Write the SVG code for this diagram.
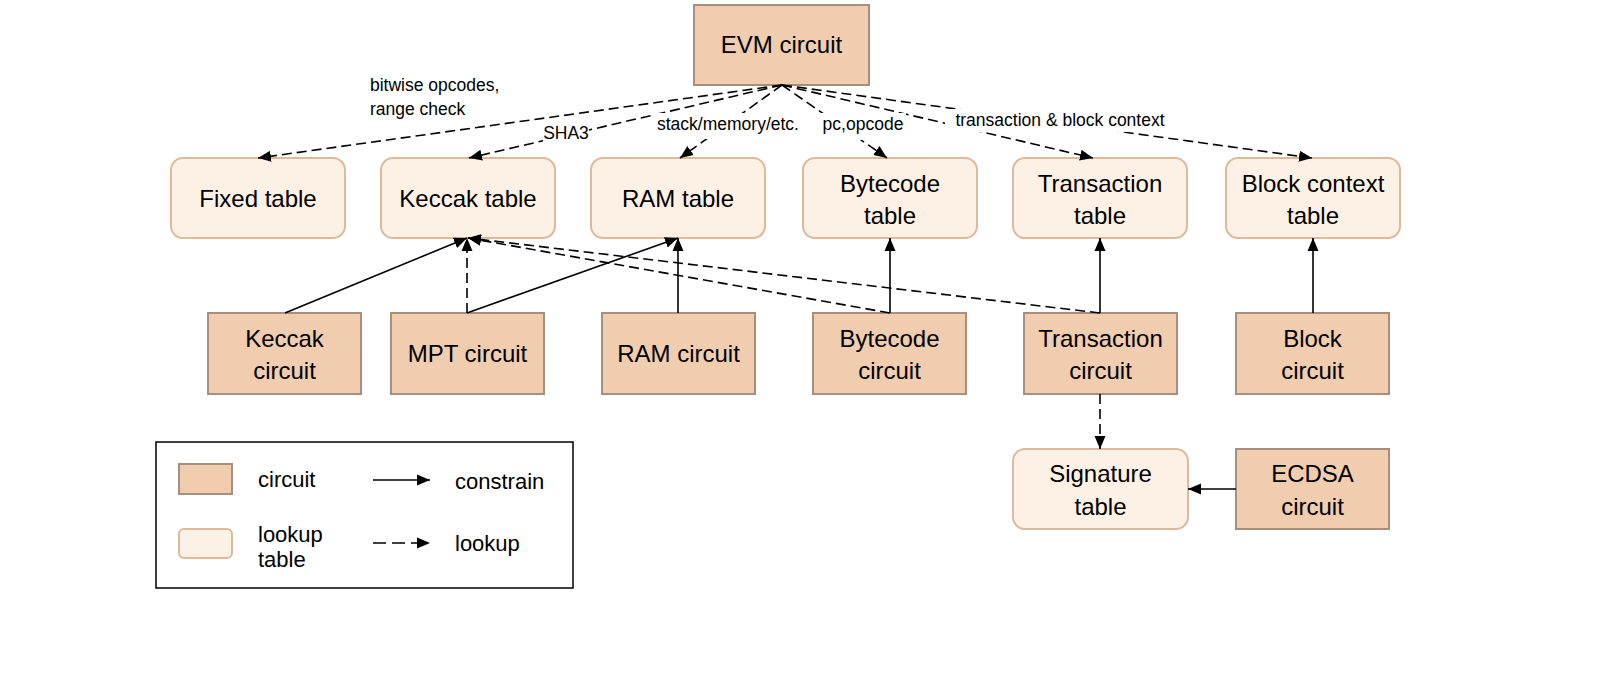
<svg xmlns="http://www.w3.org/2000/svg" width="1621" height="684" viewBox="0 0 1621 684">
<defs>
<style>
.circuit{fill:#F1CDAF;stroke:#A98F7B;stroke-width:2}
.table{fill:#FDF1E5;stroke:#DDBA9C;stroke-width:2}
.t{font-family:"Liberation Sans",Arial,sans-serif;font-size:24px;fill:#000;text-anchor:middle}
.lbl{font-family:"Liberation Sans",Arial,sans-serif;font-size:17.5px;fill:#000}
.lg{font-family:"Liberation Sans",Arial,sans-serif;font-size:22px;fill:#000}
.solid{stroke:#000;stroke-width:1.6;fill:none;marker-end:url(#ah)}
.dash{stroke:#000;stroke-width:1.6;fill:none;stroke-dasharray:10 5;marker-end:url(#ah)}
.lgdash{stroke-dasharray:13 6}
.bg{fill:#fff}
</style>
<marker id="ah" markerUnits="userSpaceOnUse" markerWidth="14" markerHeight="12" refX="13" refY="6" orient="auto">
<path d="M0,0.5 L13,6 L0,11.5 z" fill="#000"/>
</marker>
</defs>
<rect width="1621" height="684" fill="#fff"/>

<g id="evm-circuit"><rect class="circuit" x="694" y="5" width="175" height="80"/><text class="t" x="781.5" y="53">EVM circuit</text></g>

<g id="fixed-table"><rect class="table" x="171" y="158" width="174" height="80" rx="12"/><text class="t" x="258" y="206.5">Fixed table</text></g>
<g id="keccak-table"><rect class="table" x="381" y="158" width="174" height="80" rx="12"/><text class="t" x="468" y="206.5">Keccak table</text></g>
<g id="ram-table"><rect class="table" x="591" y="158" width="174" height="80" rx="12"/><text class="t" x="678" y="206.5">RAM table</text></g>
<g id="bytecode-table"><rect class="table" x="803" y="158" width="174" height="80" rx="12"/><text class="t" x="890" y="191.5">Bytecode</text><text class="t" x="890" y="224">table</text></g>
<g id="transaction-table"><rect class="table" x="1013" y="158" width="174" height="80" rx="12"/><text class="t" x="1100" y="191.5">Transaction</text><text class="t" x="1100" y="224">table</text></g>
<g id="block-context-table"><rect class="table" x="1226" y="158" width="174" height="80" rx="12"/><text class="t" x="1313" y="191.5">Block context</text><text class="t" x="1313" y="224">table</text></g>

<g id="keccak-circuit"><rect class="circuit" x="208" y="313" width="153" height="81"/><text class="t" x="284.5" y="347">Keccak</text><text class="t" x="284.5" y="379">circuit</text></g>
<g id="mpt-circuit"><rect class="circuit" x="391" y="313" width="153" height="81"/><text class="t" x="467.5" y="362">MPT circuit</text></g>
<g id="ram-circuit"><rect class="circuit" x="602" y="313" width="153" height="81"/><text class="t" x="678.5" y="362">RAM circuit</text></g>
<g id="bytecode-circuit"><rect class="circuit" x="813" y="313" width="153" height="81"/><text class="t" x="889.5" y="347">Bytecode</text><text class="t" x="889.5" y="379">circuit</text></g>
<g id="transaction-circuit"><rect class="circuit" x="1024" y="313" width="153" height="81"/><text class="t" x="1100.5" y="347">Transaction</text><text class="t" x="1100.5" y="379">circuit</text></g>
<g id="block-circuit"><rect class="circuit" x="1236" y="313" width="153" height="81"/><text class="t" x="1312.5" y="347">Block</text><text class="t" x="1312.5" y="379">circuit</text></g>

<g id="signature-table"><rect class="table" x="1013" y="449" width="175" height="80" rx="12"/><text class="t" x="1100.5" y="482">Signature</text><text class="t" x="1100.5" y="514.5">table</text></g>
<g id="ecdsa-circuit"><rect class="circuit" x="1236" y="449" width="153" height="80"/><text class="t" x="1312.5" y="482">ECDSA</text><text class="t" x="1312.5" y="514.5">circuit</text></g>

<g id="connectors">
<line class="dash" x1="782" y1="85" x2="258" y2="158"/>
<line class="dash" x1="782" y1="85" x2="469" y2="158"/>
<line class="dash" x1="782" y1="85" x2="680" y2="158"/>
<line class="dash" x1="782" y1="85" x2="887" y2="158"/>
<line class="dash" x1="782" y1="85" x2="1093" y2="158"/>
<line class="dash" x1="782" y1="85" x2="1312" y2="158"/>
<line class="solid" x1="285" y1="313" x2="467" y2="238"/>
<line class="dash" x1="467" y1="313" x2="467" y2="238"/>
<line class="solid" x1="467" y1="313" x2="678" y2="238"/>
<line class="solid" x1="678" y1="313" x2="678" y2="238"/>
<line class="solid" x1="890" y1="313" x2="890" y2="238"/>
<line class="dash" x1="890" y1="313" x2="468" y2="238"/>
<line class="dash" x1="1100" y1="313" x2="468" y2="238"/>
<line class="solid" x1="1100" y1="313" x2="1100" y2="238"/>
<line class="solid" x1="1313" y1="313" x2="1313" y2="238"/>
<line class="dash" x1="1100" y1="394" x2="1100" y2="449"/>
<line class="solid" x1="1236" y1="489" x2="1188" y2="489"/>
</g>

<g id="labels">
<text class="lbl" x="370" y="91">bitwise opcodes,</text>
<text class="lbl" x="370" y="115">range check</text>
<rect class="bg" x="543" y="124" width="46" height="20"/>
<text class="lbl" x="566" y="139" text-anchor="middle">SHA3</text>
<rect class="bg" x="651" y="113" width="154" height="26"/>
<text class="lbl" x="728" y="130" text-anchor="middle">stack/memory/etc.</text>
<rect class="bg" x="820" y="113" width="86" height="27"/>
<text class="lbl" x="863" y="130" text-anchor="middle">pc,opcode</text>
<rect class="bg" x="945" y="109" width="230" height="23"/>
<text class="lbl" x="1060" y="126" text-anchor="middle">transaction &amp; block context</text>
</g>

<g id="legend">
<rect x="156" y="442" width="417" height="146" fill="#fff" stroke="#000" stroke-width="1.5"/>
<rect class="circuit" x="179" y="464" width="53" height="30"/>
<text class="lg" x="258" y="487">circuit</text>
<rect class="table" x="179" y="529" width="53" height="29" rx="5"/>
<text class="lg" x="258" y="542">lookup</text>
<text class="lg" x="258" y="567">table</text>
<line class="solid" x1="373" y1="480" x2="430" y2="480"/>
<text class="lg" x="455" y="489">constrain</text>
<line class="dash lgdash" x1="373" y1="543" x2="430" y2="543"/>
<text class="lg" x="455" y="551">lookup</text>
</g>
</svg>
